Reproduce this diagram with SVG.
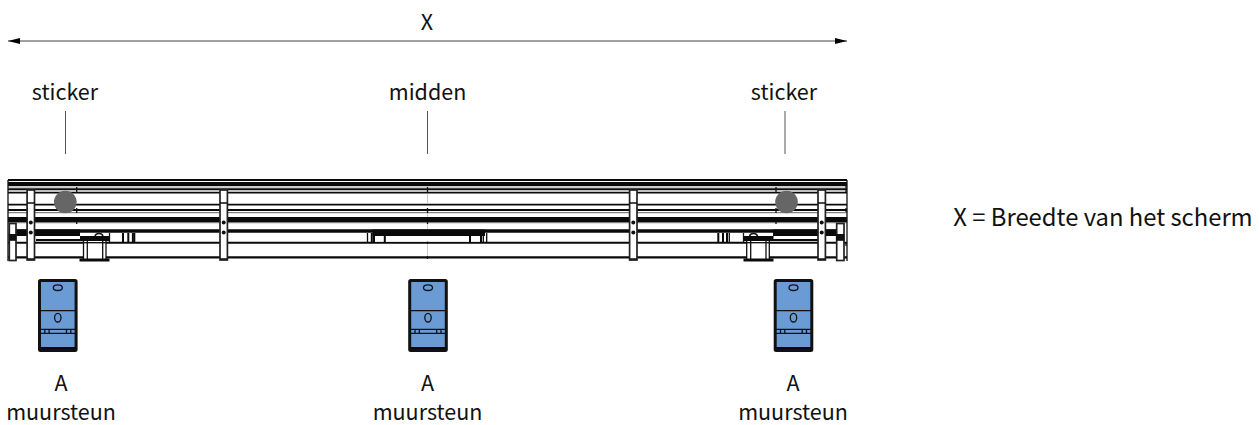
<svg xmlns="http://www.w3.org/2000/svg" width="1259" height="425" viewBox="0 0 1259 425">
<style>
text{font-family:"Noto Sans CJK SC","Noto Sans",sans-serif;font-size:21.5px;fill:#111;text-anchor:middle}
.l{stroke:#111;fill:none;stroke-width:1.300}
.h{stroke:#0a0a0a;fill:none}
.p{fill:#fff;stroke:#222;stroke-width:1.700}
.dot{fill:#111}
</style>
<defs>
<marker id="ah" markerWidth="12" markerHeight="6" refX="12" refY="3" orient="auto-start-reverse" markerUnits="userSpaceOnUse"><path d="M0 0L12 3L0 6Z" fill="#000"/></marker>
<g id="post"><rect x="-3.700" y="190" width="7.400" height="70" class="p"/><path class="l" d="M-3.700 203H3.700M-3.700 259H3.700"/><circle cy="222.500" r="2" class="dot"/><circle cy="232.500" r="2" class="dot"/></g>
<g id="bracket">
<rect x="-18.300" y="280.500" width="36.600" height="70" rx="1" fill="#6b9bd5" stroke="#111" stroke-width="3"/>
<path class="l" d="M-18 310.700H18M-18 329.300H18M-18 333.300H18"/>
<path class="h" stroke-width="2" d="M-18 348H18"/>
<path class="l" d="M-13 329.300V333.300M-8.700 329.300V333.300M8.700 329.300V333.300M13 329.300V333.300"/>
<ellipse cy="287.700" rx="4.500" ry="2.800" fill="none" stroke="#111" stroke-width="1.300"/>
<ellipse cy="317.700" rx="3.200" ry="4.300" fill="none" stroke="#111" stroke-width="1.300"/>
</g>
</defs>
<g id="connectors">
<line x1="8" y1="41" x2="847" y2="41" stroke="#808080" stroke-width="1.600" marker-start="url(#ah)" marker-end="url(#ah)"/>
<path d="M65.500 111V154M427.500 111V154M785 111V154" stroke="#555" stroke-width="1" fill="none"/>
</g>
<g id="screen">
<rect x="8" y="180" width="839" height="78" fill="#fff"/>
<g class="h">
<path stroke-width="1.800" d="M8 180H847"/>
<path stroke-width="4.200" d="M8 184H847"/>
<path stroke-width="1" stroke="#999" d="M8 187H847"/>
<path stroke-width="2" d="M8 189.300H847"/>
<path stroke-width="1.800" d="M8 192.700H847"/>
<path stroke-width="1.800" d="M8 204.700H847"/>
<path stroke-width="2.200" d="M8 210H847"/>
<path stroke-width="1" stroke="#666" d="M8 212.700H847"/>
<path stroke-width="4.800" d="M8 219.500H847"/>
<path stroke-width="1" stroke="#666" d="M8 222.700H847"/>
<path stroke-width="3.400" d="M16 231H837"/>
<path stroke-width="2" d="M8 242.700H847"/>
<path stroke-width="2.200" d="M8 257.300H847"/>
<path stroke-width="6.600" d="M16 232.700H80M773 232.700H837M372.500 232.700H485"/>
<path stroke-width="1.800" d="M36 240H80M773 240H818"/>
</g>
<path class="l" stroke-width="1.800" d="M8 180V261M847 180V261"/>
<path d="M427.500 194V204M427.500 213V217M427.500 224V229M427.500 236V242M427.500 244V256" stroke="#bbb" stroke-width="0.800"/>
<path d="M427.500 187V193M427.500 208V213M427.500 222V224M427.500 241V244M427.500 256V259M76.700 187V193M76.700 208V213M76.700 222V224M776 187V193M776 208V213M776 222V224M846 183V192M846 208V212M846 217V222M846 243V246" stroke="#111" stroke-width="1.300"/>
<g id="left-hw">
<rect x="9.300" y="223.500" width="6.700" height="37" class="p"/><rect x="8.800" y="234" width="7.500" height="6.800" fill="#111"/>
<rect x="80" y="236" width="29" height="5" fill="#0a0a0a"/>
<rect x="84" y="241" width="22" height="18" fill="#fff"/>
<path class="l" stroke-width="1.600" d="M83.500 241V259M87.300 241V259M102.700 241V259M106 241V259"/>
<path class="h" stroke-width="1.300" stroke="#444" d="M84 242.700H106"/>
<path class="h" stroke-width="3" d="M79.500 260H109.500"/>
<path fill="#fff" stroke="#111" stroke-width="1.500" d="M95 236C96 232.600 102 232.600 103 236"/>
<path class="l" d="M109.500 233V242"/>
<path class="h" stroke-width="2" d="M123 233V243M128.300 233V243M134.300 233V243"/><path class="h" stroke-width="1.800" d="M132.800 233V243"/>
</g>
<g id="centre-hw">
<rect x="375" y="237.300" width="8.300" height="4.300" fill="#fff"/><rect x="470" y="237.300" width="10" height="4.300" fill="#fff"/><rect x="385" y="236" width="85" height="5.600" fill="#fff"/>
<path class="h" stroke-width="1.300" d="M367.500 233V243M486.700 233V243M483.300 233V243"/>
<path class="h" stroke-width="2" d="M371.800 233V243M384.800 236V243M470 236V243M481 236V243M374 236V243"/>
</g>
<g id="right-hw">
<rect x="836.700" y="223.500" width="7.300" height="37" class="p"/><rect x="836.200" y="234" width="8.300" height="6.800" fill="#111"/>
<rect x="744" y="236" width="29.500" height="5" fill="#0a0a0a"/>
<rect x="747" y="241" width="22" height="18" fill="#fff"/>
<path class="l" stroke-width="1.600" d="M746.700 241V259M750.700 241V259M766 241V259M769.300 241V259"/>
<path class="h" stroke-width="1.300" stroke="#444" d="M747 242.700H769"/>
<path class="h" stroke-width="3" d="M743.500 260H773.500"/>
<path fill="#fff" stroke="#111" stroke-width="1.500" d="M749.500 236C750.500 232.600 756.500 232.600 757.500 236"/>
<path class="h" stroke-width="2" d="M718.300 233V243M723 233V243M727 233V243"/><path class="l" d="M729.300 233V243"/><path class="l" d="M743.500 233V242"/>
</g>
<use href="#post" x="30.800"/><use href="#post" x="223.700"/><use href="#post" x="633.300"/><use href="#post" x="821.700"/>
</g>
<g id="sticker-dots"><circle cx="65.300" cy="202" r="11.300" fill="#666"/><circle cx="786.500" cy="202" r="11.300" fill="#666"/></g>
<g id="bracket-left"><use href="#bracket" x="57.800"/></g>
<g id="bracket-mid"><use href="#bracket" x="428"/></g>
<g id="bracket-right"><use href="#bracket" x="793.500"/></g>
<g id="labels">
<text x="427" y="30">X</text>
<text x="65" y="100">sticker</text><text x="427.500" y="100">midden</text><text x="784" y="100">sticker</text>
<text x="1103" y="226" style="font-size:23.800px">X = Breedte van het scherm</text>
<text x="61" y="391">A</text><text x="61" y="420">muursteun</text>
<text x="427.500" y="391">A</text><text x="427.500" y="420">muursteun</text>
<text x="793" y="391">A</text><text x="793" y="420">muursteun</text>
</g>
</svg>
